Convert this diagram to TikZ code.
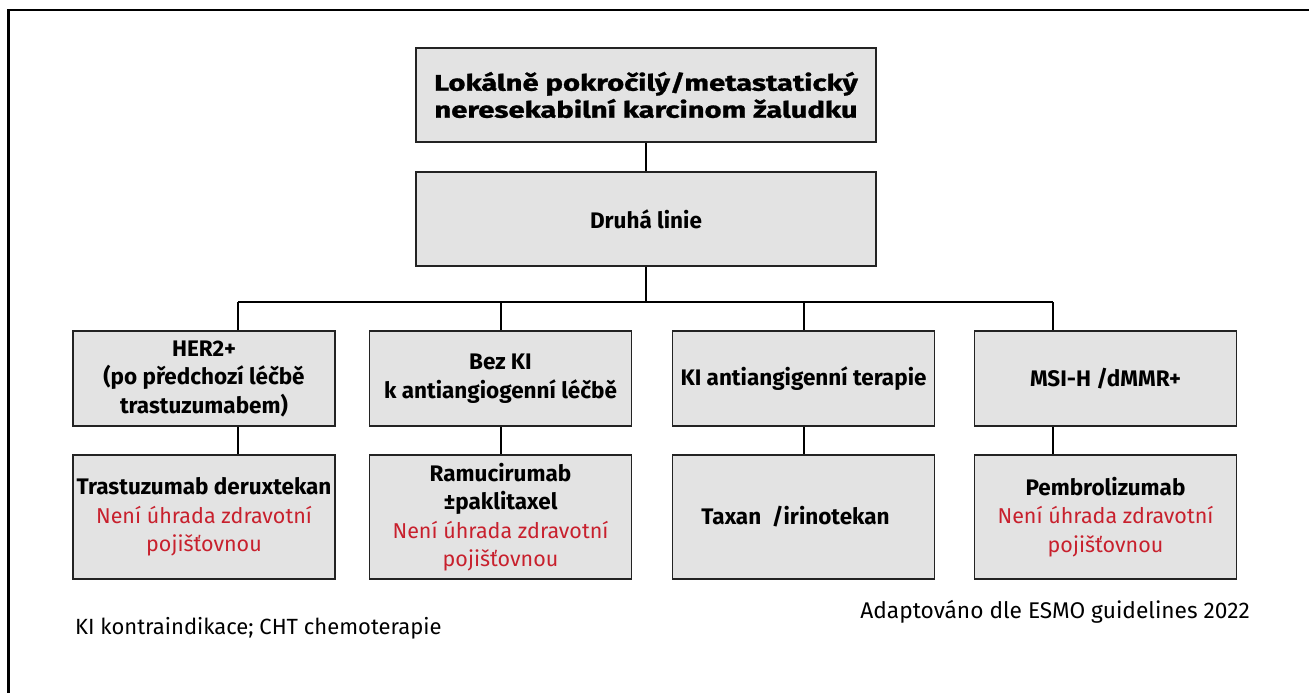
\documentclass[tikz,border=0pt]{standalone}
\usepackage{fontspec}
\setmainfont{Fira Sans}
\newfontfamily\titlefont[FakeStretch=1.3, BoldFeatures={FakeBold=1.2}]{Fira Sans}
\definecolor{boxgray}{RGB}{227,227,227}
\definecolor{edge}{RGB}{35,35,35}
\definecolor{warn}{RGB}{200,32,45}
\newcommand{\redline}[1]{\textcolor{warn}{\fontsize{21.5}{28}\selectfont\mdseries #1}}
\newcommand{\nepoj}{\redline{Není úhrada zdravotní}\\\redline{pojišťovnou}}

\begin{document}
\begin{tikzpicture}[x=1pt,y=-1pt,
  box/.style={draw=edge, line width=1.8pt, fill=boxgray, rectangle, inner sep=0pt,
    align=center, font=\fontsize{22.5}{28.5}\selectfont\bfseries},
  wide/.style={minimum width=460pt, minimum height=94pt},
  rowa/.style={minimum width=262pt, minimum height=95pt},
  rowb/.style={minimum width=262pt, minimum height=124pt},
  link/.style={line width=1.4pt, draw=black},
  note/.style={inner sep=0pt}]

\useasboundingbox (0,0) rectangle (1309,693);

% outer frame: top and left edges
\draw[line width=2.6pt, line cap=rect] (1312,10) -- (8.5,10) -- (8.5,696);

% top of the tree
\node[box, wide, font=\fontsize{22.5}{27}\selectfont\titlefont\bfseries] (top) at (646,95)
  {Lokálně pokročilý/metastatický\\neresekabilní karcinom žaludku};
\node[box, wide] (mid) at (646,219) {Druhá linie};

% first row: patient groups
\node[box, rowa] (a1) at (204,378.5) {HER2+\\(po předchozí léčbě\\trastuzumabem)};
\node[box, rowa] (a2) at (500.5,378.5) {Bez KI\\k antiangiogenní léčbě};
\node[box, rowa] (a3) at (803.5,378.5) {KI antiangigenní terapie};
\node[box, rowa] (a4) at (1105.5,378.5) {MSI-H /dMMR+};

% second row: treatments
\node[box, rowb] (b1) at (204,517) {Trastuzumab deruxtekan\\\nepoj};
\node[box, rowb] (b2) at (500.5,517) {Ramucirumab\\±paklitaxel\\\nepoj};
\node[box, rowb] (b3) at (803.5,517) {Taxan \ /irinotekan\hspace*{16pt}};
\node[box, rowb] (b4) at (1105.5,517) {Pembrolizumab\\\nepoj};

% branching points on the bus line
\coordinate (bus) at (646,302);
\coordinate (d1) at (238,302);
\coordinate (d2) at (501,302);
\coordinate (d3) at (804,302);
\coordinate (d4) at (1053,302);

\draw[link] (top.south) -- (mid.north);
\draw[link] (mid.south) -- (bus);
\draw[link] (d1) -- (d4);
\foreach \i in {1,2,3,4}{
  \draw[link] (d\i) -- (d\i |- a\i.north);
  \draw[link] (d\i |- a\i.south) -- (d\i |- b\i.north);
}

% footnotes
\node[note, anchor=base west, font=\fontsize{22}{26}\selectfont] (abbr) at (75,634)
  {KI kontraindikace; CHT chemoterapie};
\node[note, anchor=base east, font=\fontsize{22.7}{26}\selectfont] (src) at (1250,618)
  {Adaptováno dle ESMO guidelines 2022};
\end{tikzpicture}
\end{document}
